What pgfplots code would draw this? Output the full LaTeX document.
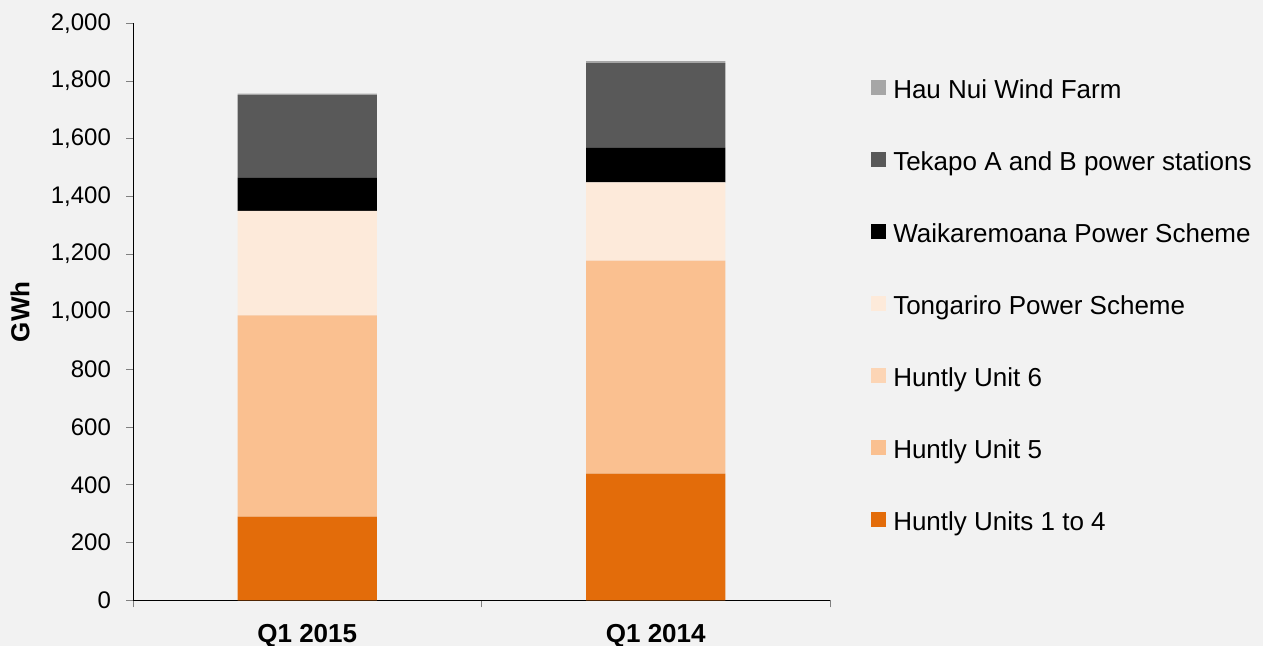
\documentclass[border=0pt]{standalone}
\usepackage{fontspec}
\setmainfont{Liberation Sans}
\usepackage{pgfplots}
\pgfplotsset{compat=1.18}

\definecolor{bg}{HTML}{F2F2F2}
\definecolor{hunA}{HTML}{E36C0A}
\definecolor{hunB}{HTML}{FAC090}
\definecolor{hunC}{HTML}{FCD5B5}
\definecolor{tong}{HTML}{FDEADA}
\definecolor{teka}{HTML}{595959}
\definecolor{hau}{HTML}{A6A6A6}

\begin{document}
\begin{tikzpicture}
% page = 1263 x 646 px at 0.5pt per px
\path[use as bounding box, fill=bg] (0,0) rectangle (631.5pt,323pt);
\begin{axis}[
    at={(66.5pt,22.85pt)}, anchor=south west,
    scale only axis,
    width=348.5pt, height=288.5pt,
    ybar stacked,
    bar width=0.4,
    xmin=-0.5, xmax=1.5,
    ymin=0, ymax=2000,
    axis x line*=bottom,
    axis y line*=left,
    axis line style={-, black},
    xtick={-0.5,0.5,1.5},
    xticklabels={},
    extra x ticks={0,1},
    extra x tick labels={Q1 2015, Q1 2014},
    extra x tick style={major tick length=0pt,
        xticklabel style={font=\fontsize{13}{15}\selectfont\bfseries, yshift=-8.5pt}},
    ytick={0,200,...,2000},
    tick align=outside,
    major tick length=3.5pt,
    tick style={gray, thin},
    /pgf/number format/assume math mode=true,
    /pgf/number format/1000 sep={,},
    yticklabel style={font=\fontsize{12}{14}\selectfont, xshift=-4pt},
    ylabel={GWh},
    ylabel style={font=\fontsize{13}{15}\selectfont\bfseries,
        at={(axis description cs:-0.162,0.5)}, anchor=center},
    reverse legend,
    legend style={draw=none, fill=none, at={(1.050,0.911)}, anchor=north west,
        font=\fontsize{13}{15}\selectfont,
        nodes={inner sep=0pt, text height=9.5pt, text depth=3pt},
        row sep=23.5pt, column sep=3.5pt},
    legend cell align=left,
    legend image code/.code={\fill[#1] (0pt,-1.6pt) rectangle (7.5pt,5.9pt);},
]
\addplot[fill=hunA, draw=none] coordinates {(0,290) (1,439)};
\addlegendentry{Huntly Units 1 to 4}
\addplot[fill=hunB, draw=none] coordinates {(0,698) (1,738)};
\addlegendentry{Huntly Unit 5}
\addplot[fill=hunC, draw=none] coordinates {(0,0) (1,0)};
\addlegendentry{Huntly Unit 6}
\addplot[fill=tong, draw=none] coordinates {(0,362) (1,272)};
\addlegendentry{Tongariro Power Scheme}
\addplot[fill=black, draw=none] coordinates {(0,114) (1,119)};
\addlegendentry{Waikaremoana Power Scheme}
\addplot[fill=teka, draw=none] coordinates {(0,287) (1,294)};
\addlegendentry{Tekapo A and B power stations}
\addplot[fill=hau, draw=none] coordinates {(0,5) (1,7)};
\addlegendentry{Hau Nui Wind Farm}
\end{axis}
\end{tikzpicture}
\end{document}
